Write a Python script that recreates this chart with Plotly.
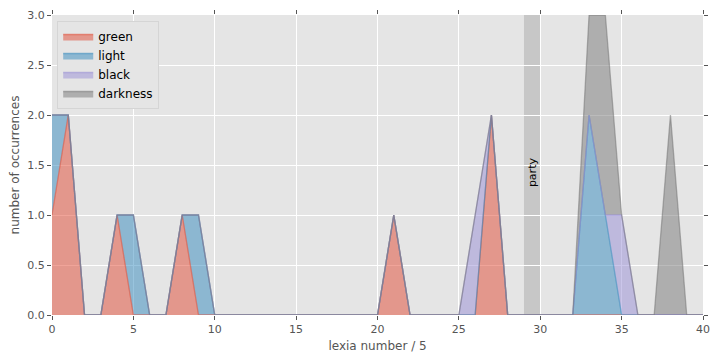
import plotly.graph_objects as go

x_vals = list(range(0, 41))

green = [0] * 41
for i, v in {0: 1, 1: 2, 4: 1, 8: 1, 21: 1, 27: 2}.items():
    green[i] = v
light = [0] * 41
for i, v in {0: 1, 5: 1, 9: 1, 33: 2, 34: 1}.items():
    light[i] = v
black = [0] * 41
for i, v in {26: 1, 35: 1}.items():
    black[i] = v
darkness = [0] * 41
for i, v in {33: 1, 34: 2, 38: 2}.items():
    darkness[i] = v

series_names = ["green", "light", "black", "darkness"]
series_values = [green, light, black, darkness]
series_rgb = [(226, 74, 51), (52, 138, 189), (152, 142, 213), (119, 119, 119)]

span_start, span_end = 29, 30
span_label = "party"
span_label_y = 1.43

fig = go.Figure()
for name, vals, (r, g, b) in zip(series_names, series_values, series_rgb):
    fig.add_trace(go.Scatter(
        x=x_vals, y=vals, name=name, mode="lines",
        stackgroup="one",
        line=dict(color=f"rgba({r},{g},{b},0.55)", width=1.3),
        fillcolor=f"rgba({r},{g},{b},0.5)",
    ))

fig.add_shape(type="rect", xref="x", yref="paper", x0=span_start, x1=span_end,
              y0=0, y1=1, fillcolor="rgba(128,128,128,0.3)", line=dict(width=0),
              layer="between")
fig.add_annotation(x=(span_start + span_end) / 2, y=span_label_y, text=span_label,
                   textangle=-90, showarrow=False,
                   font=dict(family="DejaVu Sans", size=11, color="black"))

axis_common = dict(
    showgrid=True, gridcolor="white", gridwidth=1, zeroline=False,
    ticks="outside", ticklen=4, tickcolor="#555555", mirror="ticks",
    showline=False, automargin=False,
    tickfont=dict(family="DejaVu Sans", size=11, color="#555555"),
)

fig.update_xaxes(range=[0, 40], tickmode="array", tickvals=list(range(0, 41, 5)),
                 title=dict(text="lexia number / 5", font=dict(family="DejaVu Sans", size=12, color="#555555"), standoff=6),
                 **axis_common)
fig.update_yaxes(range=[0, 3], tickmode="array", tickvals=[0, 0.5, 1, 1.5, 2, 2.5, 3],
                 tickformat=".1f",
                 title=dict(text="number of occurrences", font=dict(family="DejaVu Sans", size=12, color="#555555"), standoff=6),
                 **axis_common)

fig.update_layout(
    width=720, height=360,
    margin=dict(l=44, r=25, t=7, b=53),
    plot_bgcolor="#E5E5E5", paper_bgcolor="white",
    font=dict(family="DejaVu Sans"),
    showlegend=True,
    legend=dict(x=0.008, y=0.98, xanchor="left", yanchor="top",
                bgcolor="#E5E5E5", bordercolor="#D5D5D5", borderwidth=1,
                font=dict(family="DejaVu Sans", size=12, color="black"),
                traceorder="normal", itemwidth=30, tracegroupgap=0),
)

fig.write_html("out.html")
